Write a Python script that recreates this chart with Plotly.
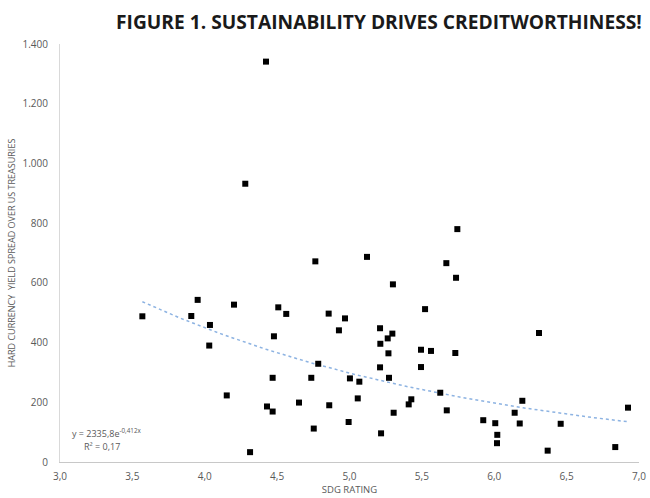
import numpy as np
import plotly.graph_objects as go

sdg_rating = [
    4.764, 5.121, 5.300, 3.951, 4.202, 3.907, 4.508, 4.563, 4.856, 4.969,
    4.927, 4.036, 4.031, 4.478, 5.211, 5.296, 5.264, 5.213, 5.269, 4.784,
    5.211, 4.469, 4.736, 5.003, 5.068, 5.273, 4.152, 4.651, 4.860, 5.057,
    4.430, 4.469, 5.305, 4.994, 4.753, 5.218, 4.313, 4.423, 4.280, 5.745,
    5.669, 5.736, 5.522, 6.309, 5.494, 5.563, 5.731, 5.494, 5.627, 5.427,
    5.409, 6.194, 6.924, 5.672, 6.141, 5.924, 6.007, 6.176, 6.459, 6.021,
    6.019, 6.369, 6.836, 3.569,
]
yield_spread = [
    672, 687, 595, 543, 527, 489, 518, 496, 497, 481,
    441, 459, 390, 421, 448, 430, 414, 396, 364, 329,
    317, 282, 282, 280, 269, 282, 223, 199, 190, 213,
    186, 169, 165, 134, 112, 96, 33, 1341, 932, 780,
    666, 617, 512, 432, 376, 372, 365, 318, 232, 210,
    193, 205, 182, 173, 165, 140, 130, 129, 128, 91,
    63, 38, 50, 488,
]

# Exponential trendline as reported on the chart
trend_a = 2335.8
trend_b = -0.412
trend_label = "y = 2335,8e<sup>-0,412x</sup>"
r2_label = "R² = 0,17"

x_trend = np.linspace(min(sdg_rating), max(sdg_rating), 200)
y_trend = trend_a * np.exp(trend_b * x_trend)

fig = go.Figure()
fig.add_trace(go.Scatter(
    x=x_trend, y=y_trend, mode="lines",
    line=dict(color="#8db3e2", width=1.5, dash="dot"),
    hoverinfo="skip", showlegend=False,
))
fig.add_trace(go.Scatter(
    x=sdg_rating, y=yield_spread, mode="markers",
    marker=dict(symbol="square", size=6, color="black"),
    showlegend=False,
))

font_family = "Open Sans, Arial, sans-serif"
axis_font = dict(family=font_family, size=10, color="#595959")

fig.update_layout(
    width=650, height=498,
    margin=dict(l=60, r=11, t=44, b=35.5, autoexpand=False),
    paper_bgcolor="white", plot_bgcolor="white",
    separators=",.",
    title=dict(
        text="<b>FIGURE 1. SUSTAINABILITY DRIVES CREDITWORTHINESS!</b>",
        x=0.583, xanchor="center", y=0.956, yanchor="middle",
        font=dict(family=font_family, size=19.2, color="#1a1a1a"),
    ),
    xaxis=dict(
        range=[3, 7], dtick=0.5, tick0=3, tickformat=".1f",
        showgrid=False, zeroline=False, automargin=False,
        showline=True, linecolor="#c8c8c8", linewidth=1,
        ticks="", tickfont=axis_font, ticklabelstandoff=5,
        title=dict(text="SDG RATING", font=dict(family=font_family, size=9.5, color="#595959"), standoff=4),
    ),
    yaxis=dict(
        range=[0, 1400], dtick=200, tickformat=",.0f",
        showgrid=False, zeroline=False, automargin=False,
        showline=True, linecolor="#d9d9d9", linewidth=1,
        ticks="", tickfont=axis_font, ticklabelstandoff=9,
        title=dict(text="HARD CURRENCY  YIELD SPREAD OVER US TREASURIES",
                   font=dict(family=font_family, size=9, color="#595959"), standoff=5),
    ),
    annotations=[
        dict(x=3.07, y=98, xref="x", yref="y", text=trend_label, showarrow=False,
             xanchor="left", yanchor="middle",
             font=dict(family=font_family, size=9, color="#595959")),
        dict(x=3.15, y=52, xref="x", yref="y", text=r2_label, showarrow=False,
             xanchor="left", yanchor="middle",
             font=dict(family=font_family, size=9, color="#595959")),
    ],
)

# remove the browser's default 8px body margin so the 650x498 figure fills the window
fig.write_html("out.html", config={"displayModeBar": False},
               post_script="document.body.style.margin='0';")
